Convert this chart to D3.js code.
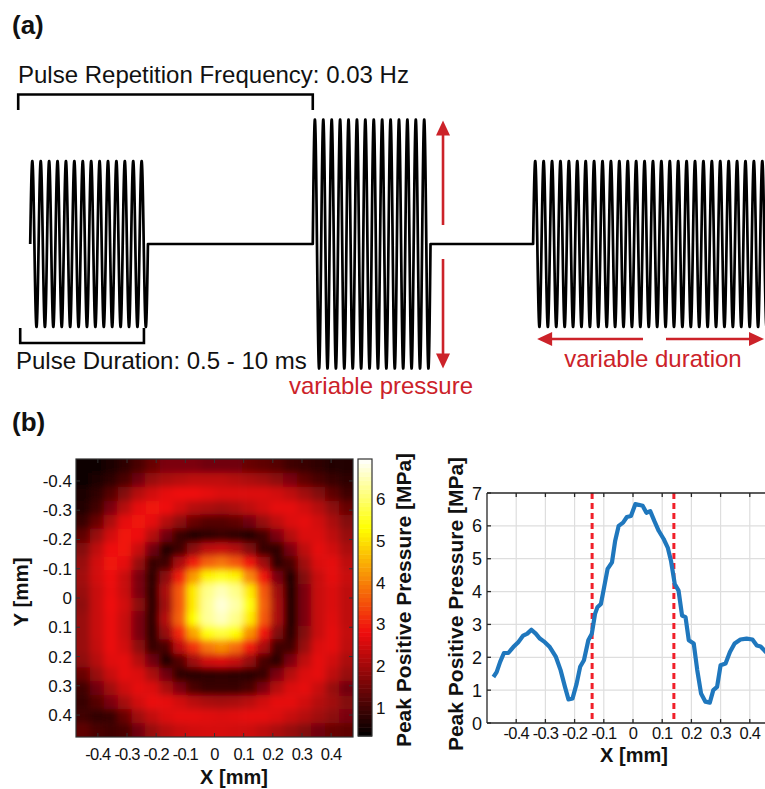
<!DOCTYPE html>
<html><head><meta charset="utf-8">
<script src="https://cdn.jsdelivr.net/npm/d3@7"></script>
<style>
body{margin:0;background:#fff}
text{font-family:"Liberation Sans",Arial,sans-serif;fill:#111}
</style></head>
<body><svg id="c" width="765" height="789"></svg>
<script>
// ---------- data: panel (a) schematic pulses (time in carrier cycles) ----------
const pulseStart = [0, 33.6, 59.8];
const pulseCycles = [14, 14, 28.4];
const pulseAmp = [1, 1.5, 1];
const schematicEnd = 88.4;

// ---------- data: panel (b) heatmap (Peak positive pressure, MPa), rows top->bottom ----------
const heatExtent = [-0.475, 0.475];
const heatRows = [
[0.5,0.5,0.6,0.8,1.1,1.4,1.6,1.6,1.6,1.5,1.5,1.5,1.4,1.3,1.2,1.0,0.9,0.8,0.7,0.7],
[0.5,0.6,0.8,1.1,1.5,1.9,2.1,2.2,2.3,2.3,2.3,2.2,2.1,2.0,1.8,1.6,1.3,1.1,0.9,0.8],
[0.6,0.8,1.2,1.7,2.2,2.5,2.7,2.8,2.8,2.7,2.6,2.6,2.6,2.6,2.5,2.3,2.0,1.7,1.3,1.0],
[0.7,1.0,1.6,2.2,2.7,2.9,2.8,2.5,2.2,2.1,2.0,2.1,2.3,2.5,2.7,2.7,2.5,2.2,1.8,1.4],
[0.9,1.4,2.1,2.7,2.9,2.7,2.2,1.8,1.4,1.2,1.2,1.3,1.5,1.9,2.3,2.6,2.7,2.5,2.1,1.7],
[1.3,1.9,2.5,2.9,2.8,2.2,1.5,0.9,0.7,0.8,0.9,0.8,0.7,1.0,1.6,2.2,2.6,2.6,2.3,1.9],
[1.7,2.3,2.8,2.9,2.4,1.5,0.7,1.0,1.8,2.3,2.4,2.2,1.7,0.9,0.8,1.6,2.3,2.7,2.5,2.1],
[1.9,2.5,2.9,2.7,1.9,0.9,1.0,2.1,3.0,3.7,3.9,3.6,2.9,2.0,0.8,1.1,2.0,2.6,2.7,2.3],
[2.0,2.5,2.8,2.4,1.6,0.8,1.8,3.0,4.3,5.2,5.5,5.2,4.1,2.9,1.6,0.7,1.7,2.4,2.7,2.4],
[1.9,2.4,2.75,2.4,1.6,0.8,2.1,3.6,5.1,6.2,6.5,6.2,5.1,3.6,2.0,0.7,1.6,2.4,2.6,2.3],
[1.8,2.4,2.8,2.5,1.8,0.8,2.0,3.6,5.1,6.3,6.7,6.4,5.4,3.7,2.1,0.7,1.6,2.4,2.6,2.3],
[1.9,2.4,2.75,2.4,1.6,0.8,2.2,3.7,5.3,6.3,6.55,6.2,5.1,3.6,2.1,0.7,1.6,2.4,2.65,2.3],
[1.9,2.4,2.75,2.4,1.6,0.8,1.9,3.1,4.4,5.4,5.7,5.3,4.2,2.9,1.7,0.75,1.7,2.4,2.7,2.35],
[1.9,2.35,2.75,2.5,1.8,0.9,1.1,2.3,3.2,3.9,4.15,3.8,3.0,2.1,1.0,1.0,1.9,2.6,2.7,2.3],
[1.8,2.2,2.65,2.7,2.2,1.5,0.7,1.2,2.0,2.5,2.6,2.4,1.9,1.1,0.75,1.6,2.3,2.7,2.5,2.1],
[1.4,1.9,2.4,2.7,2.6,2.1,1.5,0.8,0.75,0.8,0.85,0.8,0.75,0.9,1.6,2.2,2.6,2.7,2.3,1.9],
[1.0,1.5,2.0,2.45,2.7,2.6,2.1,1.6,1.1,0.9,0.9,0.9,1.1,1.6,2.2,2.6,2.7,2.4,1.9,1.5],
[0.9,1.2,1.6,2.05,2.5,2.75,2.7,2.5,2.25,2.1,2.05,2.1,2.25,2.5,2.7,2.7,2.5,2.2,2.0,1.7],
[1.0,0.85,0.9,1.4,2.0,2.35,2.6,2.7,2.7,2.65,2.6,2.65,2.7,2.7,2.6,2.4,2.2,2.0,1.8,1.6],
[1.3,1.1,1.0,1.1,1.5,1.9,2.2,2.4,2.5,2.55,2.55,2.5,2.45,2.3,2.1,1.9,1.7,1.5,1.4,1.3]
];
const heatTicks = [-0.4,-0.3,-0.2,-0.1,0,0.1,0.2,0.3,0.4];
const colorLimits = [0.33, 6.96];
const cbarTicks = [1,2,3,4,5,6];

// ---------- data: panel (b) line profile ----------
const profileX = [-0.478,-0.467,-0.455,-0.442,-0.427,-0.41,-0.393,-0.376,-0.362,-0.348,-0.333,-0.319,-0.302,-0.285,-0.264,-0.248,-0.233,-0.221,-0.207,-0.193,-0.181,-0.168,-0.153,-0.141,-0.13,-0.122,-0.11,-0.099,-0.087,-0.072,-0.061,-0.049,-0.034,-0.021,-0.007,0.008,0.019,0.033,0.046,0.059,0.073,0.088,0.105,0.119,0.13,0.143,0.156,0.168,0.18,0.191,0.208,0.22,0.233,0.248,0.263,0.275,0.288,0.3,0.317,0.332,0.348,0.368,0.389,0.409,0.424,0.437,0.455,0.47,0.49];
const profileY = [1.40,1.55,1.86,2.13,2.13,2.31,2.46,2.66,2.72,2.84,2.72,2.57,2.46,2.31,2.01,1.61,1.10,0.72,0.75,1.20,1.71,1.91,2.52,2.72,3.32,3.52,3.62,4.13,4.69,4.89,5.55,6.0,6.1,6.27,6.3,6.66,6.64,6.61,6.40,6.45,6.15,5.85,5.6,5.34,4.94,4.23,4.03,3.27,3.22,2.52,2.42,1.61,0.90,0.65,0.62,1.0,1.10,1.76,1.81,2.16,2.42,2.54,2.57,2.54,2.36,2.33,2.16,2.0,1.9];
const profileXTicks = [-0.4,-0.3,-0.2,-0.1,0,0.1,0.2,0.3,0.4];
const profileYTicks = [0,1,2,3,4,5,6,7];
const markerX = [-0.14, 0.14];

const RED = "#cc2229";
const svg = d3.select("#c");
const defs = svg.append("defs");
const fmt = d => d === 0 ? "0" : d3.format(".1f")(d).replace("\u2212","-");

// ================= panel (a) =================
svg.append("text").attr("x",12).attr("y",34).attr("font-size",26).attr("font-weight","bold").text("(a)");

const tx = d3.scaleLinear().domain([0, schematicEnd]).range([30.2, 30.2 + schematicEnd*8.41]);
const ty = d3.scaleLinear().domain([-1, 1]).range([244 + 83, 244 - 83]);
const pts = [];
pulseStart.forEach((s,k)=>{
  const n = Math.round(pulseCycles[k]*40);
  for(let i=0;i<=n;i++){
    const u = s + pulseCycles[k]*i/n;
    pts.push([u, pulseAmp[k]*Math.sin(2*Math.PI*(u-s))]);
  }
});
svg.append("path").datum(pts)
  .attr("d", d3.line().x(d=>tx(d[0])).y(d=>ty(d[1])))
  .attr("fill","none").attr("stroke","#000").attr("stroke-width",2.7).attr("stroke-linejoin","round");

// brackets
const bx1 = tx(pulseStart[0]) - 12, bx2 = tx(pulseStart[1]);
svg.append("path").attr("d",`M${bx1},110 V94.5 H${bx2} V110`).attr("fill","none").attr("stroke","#000").attr("stroke-width",2.6);
svg.append("text").attr("x",18).attr("y",83).attr("font-size",24).text("Pulse Repetition Frequency: 0.03 Hz");
const dx1 = tx(pulseStart[0]) - 10, dx2 = tx(pulseStart[0]+pulseCycles[0]) - 4;
svg.append("path").attr("d",`M${dx1},328 V343 H${dx2} V328`).attr("fill","none").attr("stroke","#000").attr("stroke-width",2.6);
svg.append("text").attr("x",16).attr("y",369).attr("font-size",24).text("Pulse Duration: 0.5 - 10 ms");

// red arrows
function arrowHead(x,y,dir){
  const L=15,W=7;
  let p;
  if(dir==="up") p=[[x,y],[x-W,y+L],[x+W,y+L]];
  if(dir==="down") p=[[x,y],[x-W,y-L],[x+W,y-L]];
  if(dir==="left") p=[[x,y],[x+L,y-W],[x+L,y+W]];
  if(dir==="right") p=[[x,y],[x-L,y-W],[x-L,y+W]];
  svg.append("path").attr("d","M"+p.join("L")+"Z").attr("fill",RED);
}
const ax = tx(pulseStart[1]+pulseCycles[1]) + 12.5;
const yTop = ty(pulseAmp[1]), yBot = ty(-pulseAmp[1]);
svg.append("line").attr("x1",ax).attr("x2",ax).attr("y1",225).attr("y2",yTop+12).attr("stroke",RED).attr("stroke-width",2.6);
arrowHead(ax,yTop+1,"up");
svg.append("line").attr("x1",ax).attr("x2",ax).attr("y1",259).attr("y2",yBot-12).attr("stroke",RED).attr("stroke-width",2.6);
arrowHead(ax,yBot,"down");
svg.append("text").attr("x",381).attr("y",394).attr("text-anchor","middle").attr("font-size",24).style("fill",RED).text("variable pressure");

const p3s = tx(pulseStart[2]);
svg.append("line").attr("x1",643).attr("x2",p3s+14).attr("y1",339).attr("y2",339).attr("stroke",RED).attr("stroke-width",2.6);
arrowHead(p3s+4,339,"left");
svg.append("line").attr("x1",666).attr("x2",752).attr("y1",339).attr("y2",339).attr("stroke",RED).attr("stroke-width",2.6);
arrowHead(764,339,"right");
svg.append("text").attr("x",653).attr("y",367).attr("text-anchor","middle").attr("font-size",24).style("fill",RED).text("variable duration");

// ================= panel (b) =================
svg.append("text").attr("x",12).attr("y",431).attr("font-size",26).attr("font-weight","bold").text("(b)");

function hot(v){
  const t = Math.max(0, Math.min(1, (v-colorLimits[0])/(colorLimits[1]-colorLimits[0])));
  const r = Math.min(1, t/0.375), g = Math.max(0, Math.min(1,(t-0.375)/0.375)), b = Math.max(0, Math.min(1,(t-0.75)/0.25));
  return d3.rgb(Math.round(r*240 + g*15), Math.round(g*255 + r*12*(1-g)), Math.round(b*255 + r*14*(1-g))).formatHex();
}

const hx = d3.scaleLinear().domain(heatExtent).range([76, 353]);
const hy = d3.scaleLinear().domain(heatExtent).range([459, 737]);
const nC = heatRows[0].length, nR = heatRows.length;
const stepX = (heatExtent[1]-heatExtent[0])/nC, stepY = (heatExtent[1]-heatExtent[0])/nR;

defs.append("clipPath").attr("id","hmclip").append("rect")
  .attr("x",hx(heatExtent[0])).attr("y",hy(heatExtent[0]))
  .attr("width",hx(heatExtent[1])-hx(heatExtent[0])).attr("height",hy(heatExtent[1])-hy(heatExtent[0]));
const flt = defs.append("filter").attr("id","soft").attr("x","-20%").attr("y","-20%").attr("width","140%").attr("height","140%");
flt.append("feGaussianBlur").attr("stdDeviation",3.8);

const cells = [];
heatRows.forEach((row,i)=>row.forEach((v,j)=>cells.push({i,j,v})));
const pad = 14;
svg.append("g").attr("clip-path","url(#hmclip)")
  .append("g").attr("filter","url(#soft)")
  .selectAll("rect").data(cells).join("rect")
  .attr("x",d=>hx(heatExtent[0]+d.j*stepX) - (d.j===0?pad:0))
  .attr("y",d=>hy(heatExtent[0]+d.i*stepY) - (d.i===0?pad:0))
  .attr("width",d=>hx(heatExtent[0]+(d.j+1)*stepX)-hx(heatExtent[0]+d.j*stepX)+0.6 + (d.j===0?pad:0)+(d.j===nC-1?pad:0))
  .attr("height",d=>hy(heatExtent[0]+(d.i+1)*stepY)-hy(heatExtent[0]+d.i*stepY)+0.6 + (d.i===0?pad:0)+(d.i===nR-1?pad:0))
  .attr("fill",d=>hot(d.v));

// heatmap frame and ticks
svg.append("rect").attr("x",76).attr("y",459).attr("width",277).attr("height",278)
  .attr("fill","none").attr("stroke","#333").attr("stroke-width",1.2);
const tk = svg.append("g").attr("stroke","#333").attr("stroke-width",1);
heatTicks.forEach(t=>{
  tk.append("line").attr("x1",hx(t)).attr("x2",hx(t)).attr("y1",737).attr("y2",733);
  tk.append("line").attr("x1",hx(t)).attr("x2",hx(t)).attr("y1",459).attr("y2",463);
  tk.append("line").attr("y1",hy(t)).attr("y2",hy(t)).attr("x1",76).attr("x2",80);
  tk.append("line").attr("y1",hy(t)).attr("y2",hy(t)).attr("x1",353).attr("x2",349);
});
const tickFont = 16.5, tickLS = -0.8;
svg.append("g").selectAll("text").data(heatTicks).join("text")
  .attr("x",d=>hx(d)).attr("y",760).attr("text-anchor","middle").attr("font-size",tickFont)
  .attr("letter-spacing",tickLS).text(fmt);
svg.append("g").selectAll("text").data(heatTicks).join("text")
  .attr("x",72).attr("y",d=>hy(d)+6).attr("text-anchor","end").attr("font-size",17)
  .text(fmt);
svg.append("text").attr("x",234).attr("y",783.5).attr("text-anchor","middle").attr("font-size",20).attr("font-weight","bold").text("X [mm]");
svg.append("text").attr("transform","translate(28,592) rotate(-90)").attr("text-anchor","middle").attr("font-size",20.5).attr("font-weight","bold").text("Y [mm]");

// colorbar
const cy = d3.scaleLinear().domain(colorLimits).range([736, 459]);
const cbStep = (colorLimits[1]-colorLimits[0])/64;
const cbSteps = d3.range(64).map(k=>colorLimits[0] + cbStep*k);
svg.append("g").selectAll("rect").data(cbSteps).join("rect")
  .attr("x",358).attr("width",14)
  .attr("y",d=>cy(d+cbStep)).attr("height",d=>cy(d)-cy(d+cbStep)+0.5)
  .attr("fill",d=>hot(d+cbStep/2));
svg.append("rect").attr("x",358).attr("y",459).attr("width",14).attr("height",277)
  .attr("fill","none").attr("stroke","#333").attr("stroke-width",1.2);
cbarTicks.forEach(t=>{
  tk.append("line").attr("x1",358).attr("x2",361).attr("y1",cy(t)).attr("y2",cy(t));
  tk.append("line").attr("x1",372).attr("x2",369).attr("y1",cy(t)).attr("y2",cy(t));
});
svg.append("g").selectAll("text").data(cbarTicks).join("text")
  .attr("x",376).attr("y",d=>cy(d)+6).attr("font-size",17).text(d=>d);
svg.append("text").attr("transform","translate(411,600) rotate(-90)").attr("text-anchor","middle")
  .attr("font-size",21).attr("font-weight","bold").text("Peak Positive Pressure [MPa]");

// line profile
const px = d3.scaleLinear().domain([-0.5,0.5]).range([487, 779]);
const py = d3.scaleLinear().domain([0,7]).range([723, 493]);
const grid = svg.append("g").attr("stroke","#dedede").attr("stroke-width",1.2);
profileXTicks.forEach(t=>grid.append("line").attr("x1",px(t)).attr("x2",px(t)).attr("y1",493).attr("y2",723));
profileYTicks.slice(1,-1).forEach(t=>grid.append("line").attr("y1",py(t)).attr("y2",py(t)).attr("x1",487).attr("x2",779));
markerX.forEach(m=>svg.append("line").attr("x1",px(m)).attr("x2",px(m)).attr("y1",493).attr("y2",723)
  .attr("stroke","#f0202a").attr("stroke-width",3).attr("stroke-dasharray","6,4"));
svg.append("path").datum(profileX.map((x,i)=>[x,profileY[i]]))
  .attr("d",d3.line().x(d=>px(d[0])).y(d=>py(d[1])))
  .attr("fill","none").attr("stroke","#1f77bd").attr("stroke-width",4.2).attr("stroke-linejoin","round");
const ax2 = svg.append("g").attr("stroke","#262626").attr("stroke-width",1.3);
ax2.append("line").attr("x1",487).attr("x2",487).attr("y1",493).attr("y2",723);
ax2.append("line").attr("x1",487).attr("x2",779).attr("y1",723).attr("y2",723);
ax2.append("line").attr("x1",487).attr("x2",779).attr("y1",493).attr("y2",493);
profileXTicks.forEach(t=>{
  ax2.append("line").attr("x1",px(t)).attr("x2",px(t)).attr("y1",723).attr("y2",719);
  ax2.append("line").attr("x1",px(t)).attr("x2",px(t)).attr("y1",493).attr("y2",497);
});
profileYTicks.forEach(t=>ax2.append("line").attr("x1",487).attr("x2",491).attr("y1",py(t)).attr("y2",py(t)));
svg.append("g").selectAll("text").data(profileXTicks).join("text")
  .attr("x",d=>px(d)).attr("y",739).attr("text-anchor","middle").attr("font-size",tickFont)
  .attr("letter-spacing",tickLS).text(fmt);
svg.append("g").selectAll("text").data(profileYTicks).join("text")
  .attr("x",482).attr("y",d=>py(d)+6.5).attr("text-anchor","end").attr("font-size",18).text(d=>d);
svg.append("text").attr("x",634).attr("y",762).attr("text-anchor","middle").attr("font-size",20).attr("font-weight","bold").text("X [mm]");
svg.append("text").attr("transform","translate(463,604) rotate(-90)").attr("text-anchor","middle")
  .attr("font-size",21).attr("font-weight","bold").text("Peak Positive Pressure [MPa]");
</script>
</body></html>
